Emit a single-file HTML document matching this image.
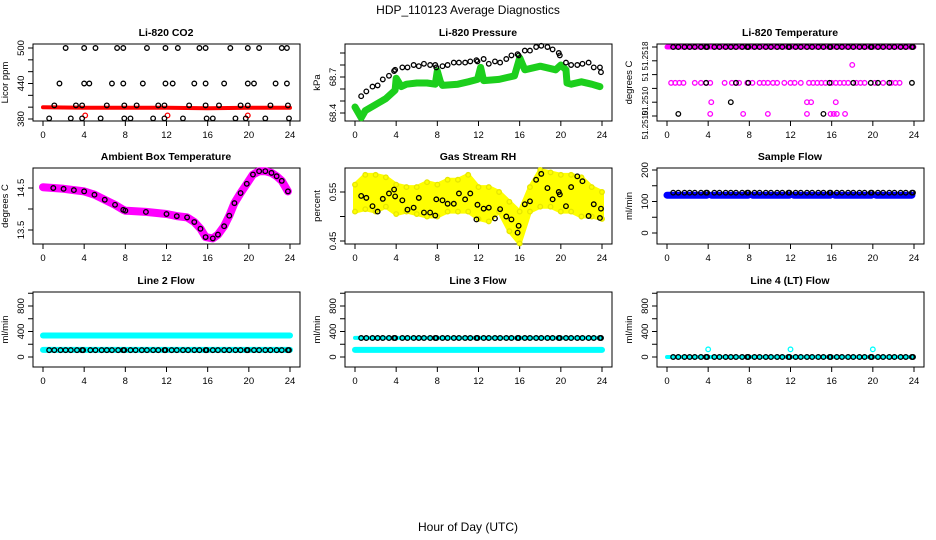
<!DOCTYPE html>
<html><head><meta charset="utf-8"><style>
html,body{margin:0;padding:0;background:#fff}
svg{display:block;font-family:"Liberation Sans",sans-serif}
</style></head><body>
<svg id="c" width="936" height="540" viewBox="0 0 936 540">
<text x="468" y="14" text-anchor="middle" font-size="12">HDP_110123  Average Diagnostics</text>
<text x="468" y="531" text-anchor="middle" font-size="12">Hour of Day (UTC)</text>
</svg>
<script>
// ---- data ----
const bHours=[0.6,1.1,1.7,2.2,2.7,3.3,3.8,3.9,4.6,5.1,5.7,6.2,6.7,7.3,7.8,7.9,8.5,9.0,9.6,10.1,10.7,11.2,11.8,11.9,12.5,13.0,13.6,14.1,14.7,15.2,15.8,15.9,16.5,17.0,17.6,18.1,18.7,19.2,19.8,19.9,20.5,21.0,21.6,22.1,22.7,23.2,23.8,23.9];
const xTicks=[0,4,8,12,16,20,24];
// CO2
const co2H500=[2.2,4.0,5.1,7.2,7.8,10.1,11.9,13.1,15.2,15.8,18.2,19.9,21.0,23.2,23.7];
const co2H440=[1.6,4.0,4.5,6.7,7.8,9.7,11.9,12.6,14.7,15.8,17.6,19.9,20.5,22.6,23.7];
const co2H403=[1.1,3.2,3.8,6.2,7.9,9.1,11.2,11.8,14.2,15.8,17.1,19.2,19.9,22.1,23.8];
const co2H381=[0.6,2.7,3.8,5.6,7.9,8.5,10.7,11.8,13.6,15.9,16.5,18.7,19.7,21.6,23.9];
const co2RedH=[0,4,8,12,16,20,24];
const co2RedV=[400,399,399,399,398,399,399];
const co2RedOutH=[4.1,12.1,19.9];
const co2RedOutV=[386,386,386];
// Pressure
const presBlack=[68.54,68.58,68.62,68.63,68.68,68.71,68.75,68.76,68.78,68.78,68.80,68.79,68.81,68.80,68.80,68.78,68.79,68.80,68.82,68.82,68.82,68.83,68.84,68.83,68.85,68.81,68.83,68.82,68.85,68.88,68.89,68.88,68.92,68.92,68.95,68.96,68.95,68.93,68.90,68.88,68.82,68.80,68.80,68.81,68.82,68.78,68.78,68.74];
const presGreenH=[0,0.6,1,2,3,3.9,4,4.5,5,6,7,7.8,8,8.3,8.5,10,11,11.9,12.2,12.5,14,15.5,16,16.5,18,19.5,20,20.5,20.6,21,22,23,23.8];
const presGreenV=[68.45,68.36,68.42,68.47,68.52,68.59,68.69,68.62,68.64,68.65,68.65,68.64,68.75,68.66,68.63,68.64,68.66,68.68,68.78,68.67,68.68,68.71,68.86,68.76,68.79,68.76,68.80,68.76,68.65,68.64,68.66,68.64,68.62];
// Li-820 temperature (index units of tick positions)
const tempMidH=[0.4,0.8,1.2,1.6,2.7,3.3,3.8,4.2,5.6,6.3,6.7,7.0,7.8,8.3,9.0,9.4,9.8,10.3,10.7,11.4,12.0,12.4,13.0,13.8,14.2,14.6,15.0,15.4,16.0,16.4,16.8,17.2,17.6,18.4,18.8,19.2,20.2,21.0,21.8,22.2,22.6];
const tempLowH=[4.3,13.6,14.0,16.4];
const tempBotH=[4.2,7.4,9.8,13.6,15.9,16.2,16.5,17.3];
const tempBlackMidH=[3.8,6.7,7.9,15.8,18.1,19.8,20.5,21.6,23.8];
const tempBlackLowH=[6.2];
const tempBlackBotH=[1.1,15.2];
const tempTopH=[0,24];
// Ambient
const ambH=[0,1,2,3,4,5,6,7,7.8,8,10,12,13,14,14.7,15.3,15.8,16.5,17,17.6,18.1,18.6,19.2,19.8,20.4,21,21.6,22.2,22.7,23.2,23.8];
const ambV=[14.52,14.5,14.48,14.45,14.42,14.34,14.22,14.1,13.98,13.96,13.93,13.88,13.83,13.8,13.69,13.53,13.33,13.3,13.39,13.59,13.84,14.14,14.38,14.6,14.82,14.9,14.9,14.86,14.78,14.67,14.42];
// RH
const rhBlack=[0.542,0.538,0.521,0.51,0.536,0.547,0.555,0.541,0.533,0.514,0.518,0.538,0.508,0.508,0.502,0.535,0.533,0.526,0.526,0.547,0.535,0.547,0.494,0.524,0.516,0.518,0.496,0.515,0.50,0.494,0.467,0.481,0.525,0.531,0.575,0.587,0.558,0.535,0.55,0.545,0.521,0.56,0.582,0.572,0.501,0.525,0.497,0.516];
const rhH=[0,1,2,3,4,5,6,7,8,9,10,11,12,13,14,15,16,17,18,19,20,21,22,23,24];
const rhHi=[0.565,0.585,0.585,0.58,0.565,0.56,0.56,0.57,0.565,0.575,0.575,0.585,0.56,0.56,0.55,0.53,0.51,0.56,0.595,0.59,0.585,0.585,0.58,0.56,0.55];
const rhLo=[0.51,0.515,0.51,0.52,0.505,0.51,0.505,0.50,0.50,0.51,0.51,0.51,0.495,0.49,0.51,0.47,0.445,0.51,0.52,0.52,0.51,0.51,0.50,0.50,0.495];
// Sample flow
const sfBlueH=[0,3.9,null,4.3,7.9,null,8.3,11.9,null,12.3,15.9,null,16.3,19.9,null,20.3,23.8];
const sfBlueV=[120,120,null,120,120,null,120,120,null,120,120,null,120,120,null,120,120];
const sfBlack=128;
// Line flows
const l2CyanHi=[338,338];
const l2CyanLo=[112,112];
const l2Black=108;
const l3CyanLo=[112,112];
const l3Cyan0=[300,300];
const l3Black=298;
const l4Black=0;
const l4CyanH=[4,12,20];
const l4CyanV=[120,120,120];
const bandH=[0,24];

// ---- drawing ----
const svg=document.getElementById('c');
const NS='http://www.w3.org/2000/svg';
const colL=[33,345,657], rowT=[44,168,292], rowB=[121,244,367];
function mk(tag,attrs,parent){const e=document.createElementNS(NS,tag);for(const k in attrs)e.setAttribute(k,attrs[k]);(parent||svg).appendChild(e);return e;}
function panel(c,r,title,ylabel,v1,p1,v2,p2,ticks,labels,name,lblSize){
  const g=mk('g',{});
  
  
  const L=colL[c],T=rowT[r],B=rowB[r];
  const xs=h=>L+10+h*(247/24);
  const ys=v=>p1+(v-v1)*(p2-p1)/(v2-v1);
  const box=mk('rect',{x:L,y:T,width:267,height:B-T,fill:'none',stroke:'#000','stroke-width':1},g);
  
  
  const t=mk('text',{x:L+133,y:T-8,'text-anchor':'middle','font-size':10.5,'font-weight':'bold'},g);t.textContent=title;
  
  
  const yl=mk('text',{x:0,y:0,'text-anchor':'middle','font-size':9.5,transform:`translate(${L-25},${(T+B)/2}) rotate(-90)`},g);yl.textContent=ylabel;
  
  
  xTicks.forEach(h=>{
    mk('line',{x1:xs(h),x2:xs(h),y1:B,y2:B+5,stroke:'#000'},g);
    const tx=mk('text',{x:xs(h),y:B+17,'text-anchor':'middle','font-size':9.5},g);tx.textContent=h;
    
    
  });
  ticks.forEach(v=>{mk('line',{x1:L-5,x2:L,y1:ys(v),y2:ys(v),stroke:'#000'},g);});
  labels.forEach(l=>{
    const ty=mk('text',{x:0,y:0,'text-anchor':'middle','font-size':lblSize||9.5,transform:`translate(${L-9},${l[1]!==undefined?l[1]:ys(l[0])}) rotate(-90)`},g);
    ty.textContent=l[2]!==undefined?l[2]:l[0];
    
    
  });
  const pts=(hs,vs,col,nm,r0)=>{hs.forEach((h,i)=>{const v=Array.isArray(vs)?vs[i]:vs;
    const ci=mk('circle',{cx:xs(h),cy:ys(v),r:r0||2.3,fill:'none',stroke:col,'stroke-width':1.3},g);
    
    });};
  const band=(hs,vs,col,w,nm)=>{let d='';let pen=false;hs.forEach((h,i)=>{if(h===null){pen=false;return;}d+=(pen?'L':'M')+xs(h).toFixed(1)+' '+ys(vs[i]).toFixed(1)+' ';pen=true;});
    const p=mk('path',{d:d,fill:'none',stroke:col,'stroke-width':w,'stroke-linecap':'round','stroke-linejoin':'round'},g);
    
    };
  const area=(hs,hi,lo,col,nm)=>{let d='';hs.forEach((h,i)=>{d+=(i?'L':'M')+xs(h)+' '+ys(hi[i])+' ';});for(let i=hs.length-1;i>=0;i--)d+='L'+xs(hs[i])+' '+ys(lo[i])+' ';
    const p=mk('path',{d:d+'Z',fill:col,stroke:col,'stroke-width':4,'stroke-linejoin':'round'},g);
    
    };
  return {pts,band,area,xs,ys};
}
const step=(a,b,s)=>{const o=[];for(let v=a;v<=b+1e-9;v+=s)o.push(+v.toFixed(4));return o;};

// CO2
let p=panel(0,0,'Li-820 CO2','Licor ppm',500,48,380,119,step(380,500,20),[[380],[440],[500]],'co2');
p.band(co2RedH,co2RedV,'#f00',4,'co2-red-series');
p.pts(co2RedOutH,co2RedOutV,'#f00','co2-red-point');
p.pts(co2H500,500,'#000','co2-black-point');
p.pts(co2H440,440,'#000','co2-black-point');
p.pts(co2H403,403,'#000','co2-black-point');
p.pts(co2H381,381,'#000','co2-black-point');
// Pressure
p=panel(1,0,'Li-820 Pressure','kPa',68.7,77,68.4,113,step(68.4,68.9,0.1),[[68.4],[68.7]],'pressure');
p.band(presGreenH,presGreenV,'#1ccf1c',7,'pressure-green-series');
p.pts(bHours,presBlack,'#000','pressure-black-point');
// Temperature
p=panel(2,0,'Li-820 Temperature','degrees C',5,47,0,116,[0,1,2,3,4,5],[[5,56,'51.2518'],[3,77,'51'],[1,101,'51.2510'],[0,125,'51.2510']],'li820-temp',8);
p.band(tempTopH,[5,5],'#f0f',5,'temp-magenta-top');
p.pts(tempMidH,2.4,'#f0f','temp-magenta-point');
p.pts(tempLowH,1.0,'#f0f','temp-magenta-point');
p.pts(tempBotH,0.15,'#f0f','temp-magenta-point');
p.pts([18],3.7,'#f0f','temp-magenta-point');
p.pts(bHours,5,'#000','temp-black-point');
p.pts(tempBlackMidH,2.4,'#000','temp-black-point');
p.pts(tempBlackLowH,1.0,'#000','temp-black-point');
p.pts(tempBlackBotH,0.15,'#000','temp-black-point');
// Ambient
p=panel(0,1,'Ambient Box Temperature','degrees C',14.5,188,13.5,230,[13.5,14,14.5],[[13.5],[14.5]],'ambient');
p.band(ambH,ambV,'#f0f',8,'ambient-magenta-series');
p.pts(ambH.slice(1),ambV.slice(1),'#000','ambient-black-point');
// RH
p=panel(1,1,'Gas Stream RH','percent',0.55,192,0.45,241,[0.45,0.5,0.55],[[0.45,undefined,'0.45'],[0.55,undefined,'0.55']],'rh');
p.area(rhH,rhHi,rhLo,'#ffff00','rh-yellow-cloud');
p.pts(rhH,rhHi,'#e6e600','rh-yellow-point');
p.pts(rhH,rhLo,'#e6e600','rh-yellow-point');
p.pts(bHours,rhBlack,'#000','rh-black-point');
// Sample flow
p=panel(2,1,'Sample Flow','ml/min',200,170,0,233,step(0,200,50),[[0],[100],[200]],'sample-flow');
p.band(sfBlueH,sfBlueV,'#00f',7,'sample-flow-blue-series');
p.pts(bHours,sfBlack,'#000','sample-flow-black-point');
// Line 2
p=panel(0,2,'Line 2 Flow','ml/min',0,357,800,306,step(0,1000,200),[[0],[400],[800]],'line2');
p.band(bandH,l2CyanHi,'#0ff',6,'line2-cyan-high');
p.band(bandH,l2CyanLo,'#0ff',6,'line2-cyan-low');
p.pts(bHours,l2Black,'#000','line2-black-point');
// Line 3
p=panel(1,2,'Line 3 Flow','ml/min',0,357,800,306,step(0,1000,200),[[0],[400],[800]],'line3');
p.band(bandH,l3CyanLo,'#0ff',6,'line3-cyan-low');
p.band(bandH,l3Cyan0,'#0ff',4,'line3-cyan-high');
p.pts(bHours,l3Black,'#000','line3-black-point');
// Line 4
p=panel(2,2,'Line 4 (LT) Flow','ml/min',0,357,800,306,step(0,1000,200),[[0],[400],[800]],'line4');
p.band(bandH,[0,0],'#0ff',4,'line4-cyan-zero');
p.pts(l4CyanH,l4CyanV,'#0ff','line4-cyan-point');
p.pts(bHours,l4Black,'#000','line4-black-point');
</script>
</body></html>
